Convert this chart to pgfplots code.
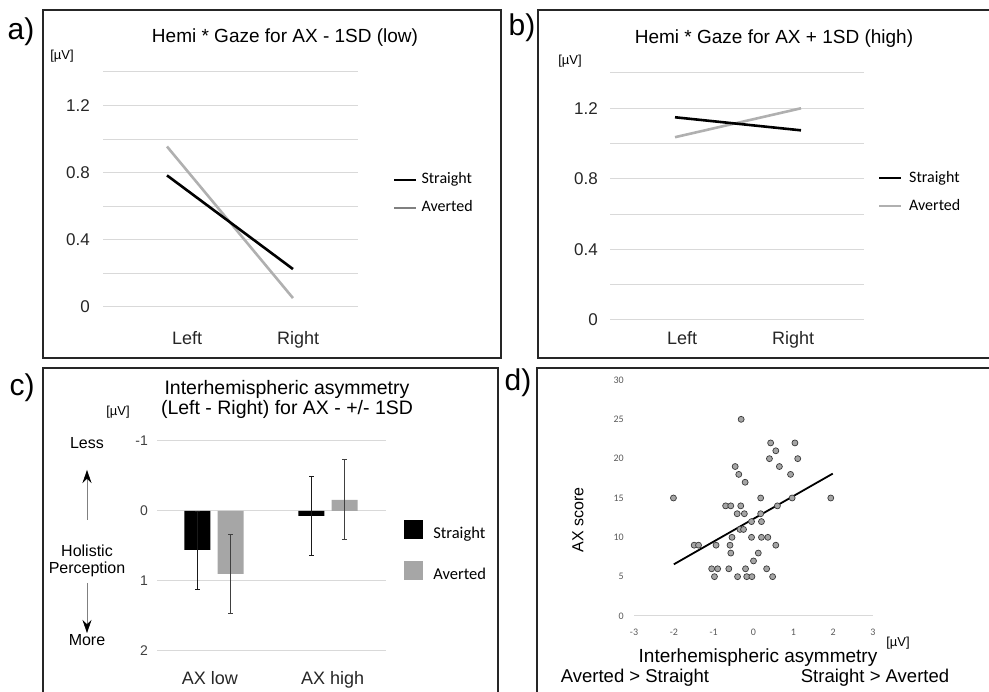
\documentclass[border=0pt]{standalone}
\usepackage{fontspec}
\setmainfont{Liberation Sans}
\newfontfamily\calib{Carlito}
\usepackage{pgfplots}
\pgfplotsset{compat=1.18}
\usetikzlibrary{arrows.meta}
\definecolor{gridgray}{HTML}{D9D9D9}
\definecolor{avgray}{HTML}{B0B0B0}
\definecolor{avleg}{HTML}{808080}
\definecolor{bargray}{HTML}{A6A6A6}
\definecolor{errgray}{HTML}{404040}
\definecolor{errdark}{HTML}{1A1A1A}
\definecolor{scatfill}{HTML}{A5A5A5}
\definecolor{scatdraw}{HTML}{3A3A3A}
\definecolor{bordercol}{HTML}{262626}
\definecolor{ticktxt}{HTML}{262626}
\definecolor{dtick}{HTML}{595959}
\newcommand{\fs}[1]{\fontsize{#1}{#1}\selectfont}
\pgfplotsset{
  panel/.style={scale only axis, axis line style={draw=none}, major tick length=0pt,
    tick style={draw=none}, clip=false, ymajorgrids, grid style={gridgray, line width=1pt},
    yticklabel style={anchor=east, inner sep=0pt, text=ticktxt},
    xticklabel style={anchor=base, inner sep=0pt, text=ticktxt},
    legend cell align=left,
    legend image code/.code={\draw[##1] (0pt,0pt) -- (22pt,0pt);}},
  sqlegend/.style={legend image code/.code={\fill[##1] (0pt,-5pt) rectangle (19pt,14pt);}},
  errstyle/.style={error bars/.cd, y dir=both, y explicit, error mark=-,
    error bar style={color=#1, line width=0.8pt},
    error mark options={color=#1, mark size=2.2pt, line width=0.8pt, rotate=90}},
}
\begin{document}
\begin{tikzpicture}[x=1pt,y=1pt]
\useasboundingbox (0,0) rectangle (989,692);
% panel borders
\draw[bordercol, line width=1.5pt] (43,334) rectangle (501,682);
\draw[bordercol, line width=1.5pt] (538,334) rectangle (995,682);
\draw[bordercol, line width=1.5pt] (43,-10) rectangle (498,324);
\draw[bordercol, line width=1.5pt] (537,-10) rectangle (995,324);
% panel letters
\node[font=\fs{30}] at (21,660) {a)};
\node[font=\fs{30}] at (522,664) {b)};
\node[font=\fs{30}] at (22,304) {c)};
\node[font=\fs{30}] at (518,309) {d)};
% titles
\node[font=\fs{19}, anchor=base] at (285,649) {Hemi * Gaze for AX - 1SD (low)};
\node[font=\fs{19}, anchor=base] at (774,648) {Hemi * Gaze for AX + 1SD (high)};
\node[font=\fs{19.5}, anchor=base] at (287,297) {Interhemispheric asymmetry};
\node[font=\fs{19.5}, anchor=base] at (287,277) {(Left - Right) for AX - +/- 1SD};
\node[font=\fs{13}] at (62,636) {[µV]};
\node[font=\fs{13}] at (570,631) {[µV]};
\node[font=\fs{13}] at (118,280) {[µV]};
\node[font=\fs{13}] at (898,49) {[µV]};

% ---------- panel a ----------
\begin{axis}[panel, at={(103pt,385pt)}, anchor=south west, width=255pt, height=235pt,
  xmin=-0.508, xmax=1.516, ymin=0, ymax=1.4,
  ytick={0,0.2,0.4,0.6,0.8,1.0,1.2,1.4}, yticklabels={0,,0.4,,0.8,,1.2,},
  yticklabel style={font=\fs{17}, xshift=-13pt},
  xtick={0.159,1.04}, xticklabels={Left,Right},
  xticklabel style={font=\fs{18}, yshift=-37.5pt},
  legend style={at={(1.137,0.481)}, anchor=west, draw=none, fill=none, inner sep=0pt,
    row sep=14pt, /tikz/column sep=4pt, font=\calib\fs{16},
    nodes={inner sep=0pt, text height=11pt, text depth=3pt}}]
\addplot[forget plot, avgray, line width=2.6pt] coordinates {(0,0.956) (1,0.053)};
\addplot[forget plot, black, line width=2.6pt] coordinates {(0,0.784) (1,0.226)};
\addlegendimage{black, line width=2pt}
\addlegendentry{Straight}
\addlegendimage{avleg, line width=2.4pt}
\addlegendentry{Averted}
\end{axis}

% ---------- panel b ----------
\begin{axis}[panel, at={(610pt,372pt)}, anchor=south west, width=254pt, height=247pt,
  xmin=-0.516, xmax=1.5, ymin=0, ymax=1.4,
  ytick={0,0.2,0.4,0.6,0.8,1.0,1.2,1.4}, yticklabels={0,,0.4,,0.8,,1.2,},
  yticklabel style={font=\fs{17}, xshift=-12pt},
  xtick={0.056,0.937}, xticklabels={Left,Right},
  xticklabel style={font=\fs{18}, yshift=-24.5pt},
  legend style={at={(1.055,0.518)}, anchor=west, draw=none, fill=none, inner sep=0pt,
    row sep=14pt, /tikz/column sep=7pt, font=\calib\fs{16},
    nodes={inner sep=0pt, text height=11pt, text depth=3pt}}]
\addplot[forget plot, avgray, line width=2.6pt] coordinates {(0,1.036) (1,1.200)};
\addplot[forget plot, black, line width=2.6pt] coordinates {(0,1.149) (1,1.075)};
\addlegendimage{black, line width=2pt}
\addlegendentry{Straight}
\addlegendimage{avgray, line width=2pt}
\addlegendentry{Averted}
\end{axis}

% ---------- panel c ----------
\node[font=\fs{16}] at (87,249) {Less};
\node[font=\fs{16}] at (87,141) {Holistic};
\node[font=\fs{16}] at (87,123) {Perception};
\node[font=\fs{16}] at (87,52) {More};
\draw[gray, line width=0.6pt, -{Stealth[length=13pt,width=9pt,black]}] (87,172) -- (87,222);
\draw[gray, line width=0.6pt, -{Stealth[length=13pt,width=9pt,black]}] (87,109) -- (87,59);
\begin{axis}[panel, at={(157pt,41pt)}, anchor=south west, width=229pt, height=210pt,
  y dir=reverse, xmin=-0.5, xmax=1.509, ymin=-1, ymax=2,
  ytick={-1,0,1,2}, yticklabels={-1,0,1,2},
  yticklabel style={font=\fs{14}, xshift=-9pt, text=errgray},
  xtick={-0.035,1.04}, xticklabels={AX low,AX high},
  xticklabel style={font=\fs{18}, yshift=-33.5pt},
  legend style={at={(1.079,0.476)}, anchor=west, draw=none, fill=none, inner sep=0pt,
    row sep=20pt, /tikz/column sep=10pt, font=\calib\fs{16.5},
    nodes={inner sep=0pt, text height=11pt, text depth=3pt}}]
% bars placed at category +/- 0.145 (16.5pt)
\addplot[forget plot, ybar, bar width=26pt, bar shift=0pt, fill=black, draw=none, errstyle=errdark]
  coordinates {(-0.145,0.557) +- (0,0.557) (0.855,0.07) +- (0,0.56)};
\addplot[forget plot, ybar, bar width=26pt, bar shift=0pt, fill=bargray, draw=none, errstyle=errgray]
  coordinates {(0.145,0.90) +- (0,0.57) (1.145,-0.16) +- (0,0.57)};
\addlegendimage{sqlegend, fill=black, draw=none}
\addlegendentry{Straight}
\addlegendimage{sqlegend, fill=bargray, draw=none}
\addlegendentry{Averted}
\end{axis}

% ---------- panel d ----------
\node[font=\fs{16}, rotate=90] at (578,172) {AX score};
\node[font=\fs{19}, anchor=base] at (758,29) {Interhemispheric asymmetry};
\node[font=\fs{18.5}, anchor=base] at (635,9) {Averted > Straight};
\node[font=\fs{18.5}, anchor=base] at (875,9) {Straight > Averted};
\begin{axis}[panel, ymajorgrids=false, at={(634pt,76pt)}, anchor=south west, width=239pt, height=236pt,
  xmin=-3, xmax=3, ymin=0, ymax=30,
  xtick={-3,-2,-1,0,1,2,3}, xticklabels={-3,-2,-1,0,1,2,3},
  ytick={0,5,10,15,20,25,30}, yticklabels={0,5,10,15,20,25,30},
  extra y ticks={0}, extra y tick labels={}, extra y tick style={ymajorgrids=true},
  yticklabel style={font=\calib\fs{10}, xshift=-10pt, text=dtick},
  xticklabel style={font=\calib\fs{10}, anchor=center, yshift=-16pt, text=dtick}]
\addplot[only marks, mark=*, mark size=3pt, mark options={fill=scatfill, draw=scatdraw, line width=0.7pt}]
 table {
x y
-2.01 15
-0.31 25
0.43 22
0.56 21
0.40 20
0.65 19
1.04 22
1.11 20
0.93 18
-0.46 19
-0.37 18
-0.21 17
0.18 15
0.97 15
1.94 15
-0.70 14
-0.57 14
-0.32 14
0.60 14
-0.41 13
-0.23 13
0.18 13
-0.05 12
0.20 12
-0.34 11
-0.25 11
-0.54 10
-0.05 10
0.20 10
0.36 10
-1.49 9
-1.38 9
-0.94 9
-0.59 9
0.56 9
-0.57 8
0.12 8
0.00 7
-1.05 6
-0.90 6
-0.62 6
-0.20 6
0.33 6
-0.98 5
-0.40 5
-0.17 5
-0.04 5
0.48 5
};
\addplot[black, line width=1.8pt] coordinates {(-2.0,6.57) (1.99,18.1)};
\end{axis}
\end{tikzpicture}
\end{document}
